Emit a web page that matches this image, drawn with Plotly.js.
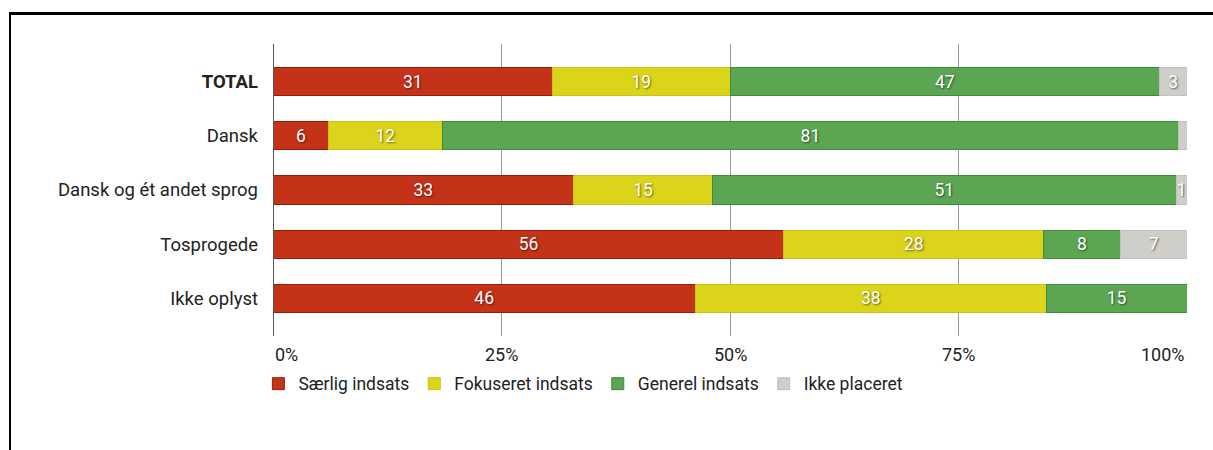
<!DOCTYPE html>
<html>
<head>
<meta charset="utf-8">
<script src="https://cdn.plot.ly/plotly-3.0.1.min.js"></script>
<style>
  html, body { margin: 0; padding: 0; background: #ffffff; }
  #wrap { position: relative; width: 1213px; height: 450px; overflow: hidden; }
  #chart { position: absolute; left: 0; top: 0; width: 1213px; height: 450px; }
  #frame { position: absolute; left: 9px; top: 12px; width: 1220px; height: 460px;
           border-top: 3px solid #000; border-left: 2px solid #000; pointer-events: none; }
</style>
</head>
<body>
<div id="wrap">
  <div id="chart"></div>
  <div id="frame"></div>
</div>
<script>
// ---- data ----
const categories = ["TOTAL", "Dansk", "Dansk og ét andet sprog", "Tosprogede", "Ikke oplyst"];
const seriesNames = ["Særlig indsats", "Fokuseret indsats", "Generel indsats", "Ikke placeret"];
const saerlig   = [30.6, 6.1, 32.9, 55.9, 46.2];
const fokuseret = [19.4, 12.4, 15.2, 28.4, 38.4];
const generel   = [47.0, 80.6, 50.7, 8.4, 15.4];
const ikke      = [3.0, 0.9, 1.2, 7.3, 0.0];
const xTickVals = [0, 25, 50, 75, 100];
const xTickText = ["0%", "25%", "50%", "75%", "100%"];

const fills   = ["#c43218", "#dbd41b", "#5ba553", "#cfcec8"];
const outlines = ["#9a1d0c", "#c9c214", "#3f8c3b", "#c2c1bb"];
const seriesValues = [saerlig, fokuseret, generel, ikke];

const FONT = "Roboto, 'Open Sans', sans-serif";

const traces = seriesValues.map((vals, i) => ({
  type: "bar",
  orientation: "h",
  name: seriesNames[i],
  y: categories,
  x: vals,
  text: vals.map(v => (v >= 1 ? String(Math.round(v)) : "")),
  textposition: "inside",
  insidetextanchor: "middle",
  constraintext: "none",
  textfont: { family: FONT, size: 17.5, color: "#ffffff", shadow: "1px 1px 2px rgba(0,0,0,0.55)" },
  marker: { color: fills[i], line: { color: outlines[i], width: 1 } },
  hoverinfo: "x+y+name"
}));

const tickAnnotations = xTickVals.map((v, i) => ({
  x: v, xref: "x", y: 0, yref: "paper", yshift: -18,
  text: xTickText[i], showarrow: false,
  xanchor: i === 0 ? "left" : (i === xTickVals.length - 1 ? "right" : "center"),
  yanchor: "middle",
  font: { family: FONT, size: 18, color: "#222222" }
}));

const layout = {
  width: 1213, height: 450,
  margin: { l: 273, r: 26, t: 44, b: 114 },
  paper_bgcolor: "rgba(0,0,0,0)",
  plot_bgcolor: "#ffffff",
  barmode: "stack",
  bargap: 0.48,
  font: { family: FONT, size: 18, color: "#222222" },
  showlegend: true,
  legend: {
    orientation: "h", x: -0.016, xanchor: "left", y: -0.102, yanchor: "top",
    font: { family: FONT, size: 17.5, color: "#222222" },
    itemwidth: 30, traceorder: "normal", tracegroupgap: 0
  },
  xaxis: {
    range: [0, 100], tickvals: xTickVals, ticktext: xTickText,
    showticklabels: false,
    showgrid: true, gridcolor: "#9a9a9a", gridwidth: 1,
    zeroline: false, showline: false, fixedrange: true
  },
  yaxis: {
    type: "category", autorange: false, range: [4.7, -0.7],
    tickvals: categories,
    ticktext: categories.map(c => (c === "TOTAL" ? "<b>" + c + "</b>" : c)),
    ticks: "", ticklabelstandoff: 14,
    showgrid: false, zeroline: false, showline: false, fixedrange: true,
    tickfont: { family: FONT, size: 18.5, color: "#222222" }
  },
  shapes: [{
    type: "line", xref: "x", yref: "paper", x0: 0, x1: 0, y0: 0, y1: 1,
    line: { color: "#555555", width: 2 }, layer: "above"
  }],
  annotations: tickAnnotations
};

Plotly.newPlot("chart", traces, layout, { displayModeBar: false, staticPlot: true });
</script>
</body>
</html>
